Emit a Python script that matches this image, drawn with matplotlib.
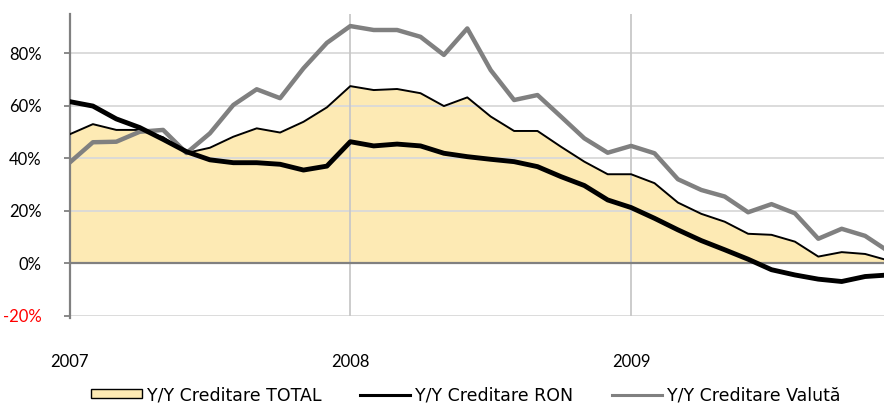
import numpy as np
import matplotlib
matplotlib.use("Agg")
import matplotlib.pyplot as plt
from matplotlib.patches import Patch
from matplotlib.lines import Line2D

# monthly y/y growth, Jan 2007 - Dec 2009 (%)
total = [49.1, 53.0, 50.8, 50.8, 48.0, 42.0, 44.0, 48.2, 51.4, 49.8, 53.9, 59.4,
         67.5, 66.0, 66.4, 64.8, 59.9, 63.2, 55.9, 50.4, 50.4, 44.4, 38.7, 33.9,
         33.9, 30.5, 23.1, 18.8, 15.8, 11.2, 10.8, 8.2, 2.5, 4.2, 3.5, 1.0]
ron = [61.6, 59.9, 55.0, 51.7, 47.2, 42.5, 39.4, 38.3, 38.3, 37.7, 35.5, 37.0,
       46.3, 44.7, 45.4, 44.7, 41.9, 40.6, 39.6, 38.7, 36.8, 33.0, 29.6, 24.1,
       21.2, 17.1, 12.7, 8.6, 5.1, 1.5, -2.5, -4.5, -6.1, -7.0, -5.1, -4.5]
valuta = [38.3, 46.1, 46.3, 50.1, 50.8, 42.0, 49.5, 60.3, 66.3, 62.9, 74.3, 84.0,
          90.4, 88.9, 88.9, 86.3, 79.4, 89.5, 73.6, 62.2, 64.1, 55.9, 47.6, 42.1,
          44.7, 41.9, 32.0, 27.9, 25.4, 19.4, 22.5, 19.0, 9.3, 13.1, 10.4, 4.5]

year_pos = [0, 12, 24]
year_labels = ["2007", "2008", "2009"]
y_ticks = [-20, 0, 20, 40, 60, 80]

C_FILL = "#FDEAB4"
C_GREY = "#808080"
C_GRID = "#D9D9D9"

x = np.arange(len(total))

fig = plt.figure(figsize=(8.84, 4.04), dpi=100)
ax = fig.add_axes([69.5 / 884, (404 - 315.6) / 404, (888.5 - 69.5) / 884, (315.6 - 14) / 404])

ax.fill_between(x, 0, total, color=C_FILL, lw=0, zorder=0.5)
for yv in y_ticks:
    if yv != 0:
        ax.axhline(yv, color=C_GRID, lw=1.3, zorder=1)
for xv in year_pos[1:]:
    ax.axvline(xv, color="#C8C8C8", lw=1.3, zorder=1)
ax.axhline(0, color=C_GREY, lw=1.6, zorder=2)

ax.plot(x, total, color="black", lw=1.4, zorder=3)
ax.plot(x, valuta, color=C_GREY, lw=3.2, zorder=4)
ax.plot(x, ron, color="black", lw=3.5, zorder=5)

ax.set_xlim(0, 35)
ax.set_ylim(-20, 95)

for s in ["top", "right", "bottom"]:
    ax.spines[s].set_visible(False)
ax.spines["left"].set_color(C_GREY)
ax.spines["left"].set_linewidth(1.6)
ax.spines["left"].set_bounds(-21, 95)

ax.set_yticks(y_ticks)
ax.set_yticklabels([f"{v}%" for v in y_ticks], fontfamily="Lato", fontsize=12)
ax.tick_params(axis="y", length=4, width=1.3, color=C_GREY, pad=16)
ax.get_yticklabels()[0].set_color("red")

ax.set_xticks(year_pos)
ax.set_xticklabels(year_labels, fontfamily="Lato", fontsize=12)
ax.tick_params(axis="x", length=0, pad=28)

handles = [
    Patch(facecolor=C_FILL, edgecolor="black", lw=1.0),
    Line2D([], [], color="black", lw=2.2),
    Line2D([], [], color=C_GREY, lw=2.2),
]
labels = ["Y/Y Creditare TOTAL", "Y/Y Creditare RON", "Y/Y Creditare Valută"]
fig.legend(handles, labels, loc="center", bbox_to_anchor=(466 / 884, 1 - 395 / 404),
           ncol=3, frameon=False, prop={"family": "DejaVu Sans", "size": 12.5},
           handlelength=2.9, handleheight=0.4, handletextpad=0.3, columnspacing=2.2,
           borderpad=0, borderaxespad=0)

fig.savefig("out.png", dpi=100)
